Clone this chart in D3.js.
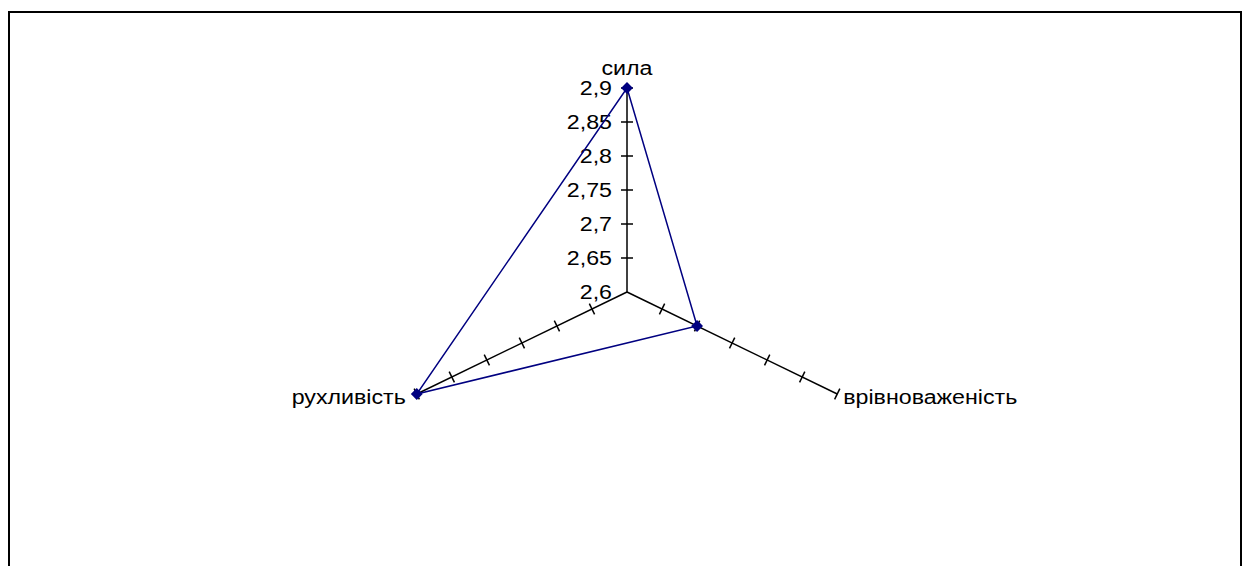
<!DOCTYPE html>
<html>
<head>
<meta charset="utf-8">
<script src="https://cdn.jsdelivr.net/npm/d3@7"></script>
<style>
  html, body { margin: 0; padding: 0; background: #fff; }
  svg { display: block; }
  text { font-family: "Liberation Sans", Arial, sans-serif; fill: #000; }
</style>
</head>
<body>
<svg id="chart" width="1248" height="566"></svg>
<script>
// Axes of the radar, clockwise from the top
const categories = ["сила", "врівноваженість", "рухливість"];
// Series values per axis
const values = [2.9, 2.7, 2.9];
// Radial scale ticks and their labels
const tickValues = [2.6, 2.65, 2.7, 2.75, 2.8, 2.85, 2.9];
const tickLabels = ["2,6", "2,65", "2,7", "2,75", "2,8", "2,85", "2,9"];

const svg = d3.select("#chart");
const cx = 627, cy = 292;
const R = 204;
const stretchX = 1.19; // horizontal stretch of the plot area
const fontSize = 19.5;

// Frame around the chart
svg.append("rect")
  .attr("x", 9).attr("y", 12)
  .attr("width", 1232).attr("height", 570)
  .attr("fill", "none").attr("stroke", "#000").attr("stroke-width", 2);

const r = d3.scaleLinear().domain([2.6, 2.9]).range([0, R]);
const angle = i => (i * 2 * Math.PI) / categories.length;
const pt = (i, v) => {
  const a = angle(i), d = r(v);
  return [cx + Math.sin(a) * d * stretchX, cy - Math.cos(a) * d];
};

// Text drawn with the same horizontal stretch as the plot
function label(x, y, str, anchor, dy) {
  svg.append("text")
    .attr("transform", `translate(${x},${y}) scale(${stretchX},1)`)
    .attr("dy", dy)
    .attr("text-anchor", anchor)
    .attr("font-size", fontSize)
    .text(str);
}

// Axis spokes
const g = svg.append("g");
categories.forEach((c, i) => {
  const [x2, y2] = pt(i, 2.9);
  g.append("line")
    .attr("x1", cx).attr("y1", cy).attr("x2", x2).attr("y2", y2)
    .attr("stroke", "#000").attr("stroke-width", 1.5);
  // tick marks across each spoke
  const a = angle(i);
  const dx = Math.sin(a) * stretchX, dy = -Math.cos(a);
  const len = Math.hypot(dx, dy);
  const nx = -dy / len, ny = dx / len;
  tickValues.slice(1).forEach(t => {
    const [tx, ty] = pt(i, t);
    const h = 6;
    g.append("line")
      .attr("x1", tx - nx * h).attr("y1", ty - ny * h)
      .attr("x2", tx + nx * h).attr("y2", ty + ny * h)
      .attr("stroke", "#000").attr("stroke-width", 1.5);
  });
});

// Tick labels along the top spoke
tickValues.forEach((t, k) => {
  const [tx, ty] = pt(0, t);
  label(tx - 15, ty, tickLabels[k], "end", "0.36em");
});

// Category labels
const catPos = [
  { dx: 0, dy: -13, anchor: "middle", shift: "0" },
  { dx: 6, dy: 8, anchor: "start", shift: "0.1em" },
  { dx: -11, dy: 8, anchor: "end", shift: "0.1em" }
];
categories.forEach((c, i) => {
  const [x, y] = pt(i, 2.9);
  const p = catPos[i];
  label(x + p.dx, y + p.dy, c, p.anchor, p.shift);
});

// Series polygon
const navy = "#000080";
const poly = values.map((v, i) => pt(i, v));
svg.append("path")
  .attr("d", d3.line()(poly) + "Z")
  .attr("fill", "none")
  .attr("stroke", navy)
  .attr("stroke-width", 1.5);

// Diamond markers
svg.selectAll("path.marker")
  .data(poly)
  .join("path")
  .attr("class", "marker")
  .attr("transform", d => `translate(${d[0]},${d[1]})`)
  .attr("d", d3.symbol().type(d3.symbolDiamond2).size(90))
  .attr("fill", navy);
</script>
</body>
</html>
